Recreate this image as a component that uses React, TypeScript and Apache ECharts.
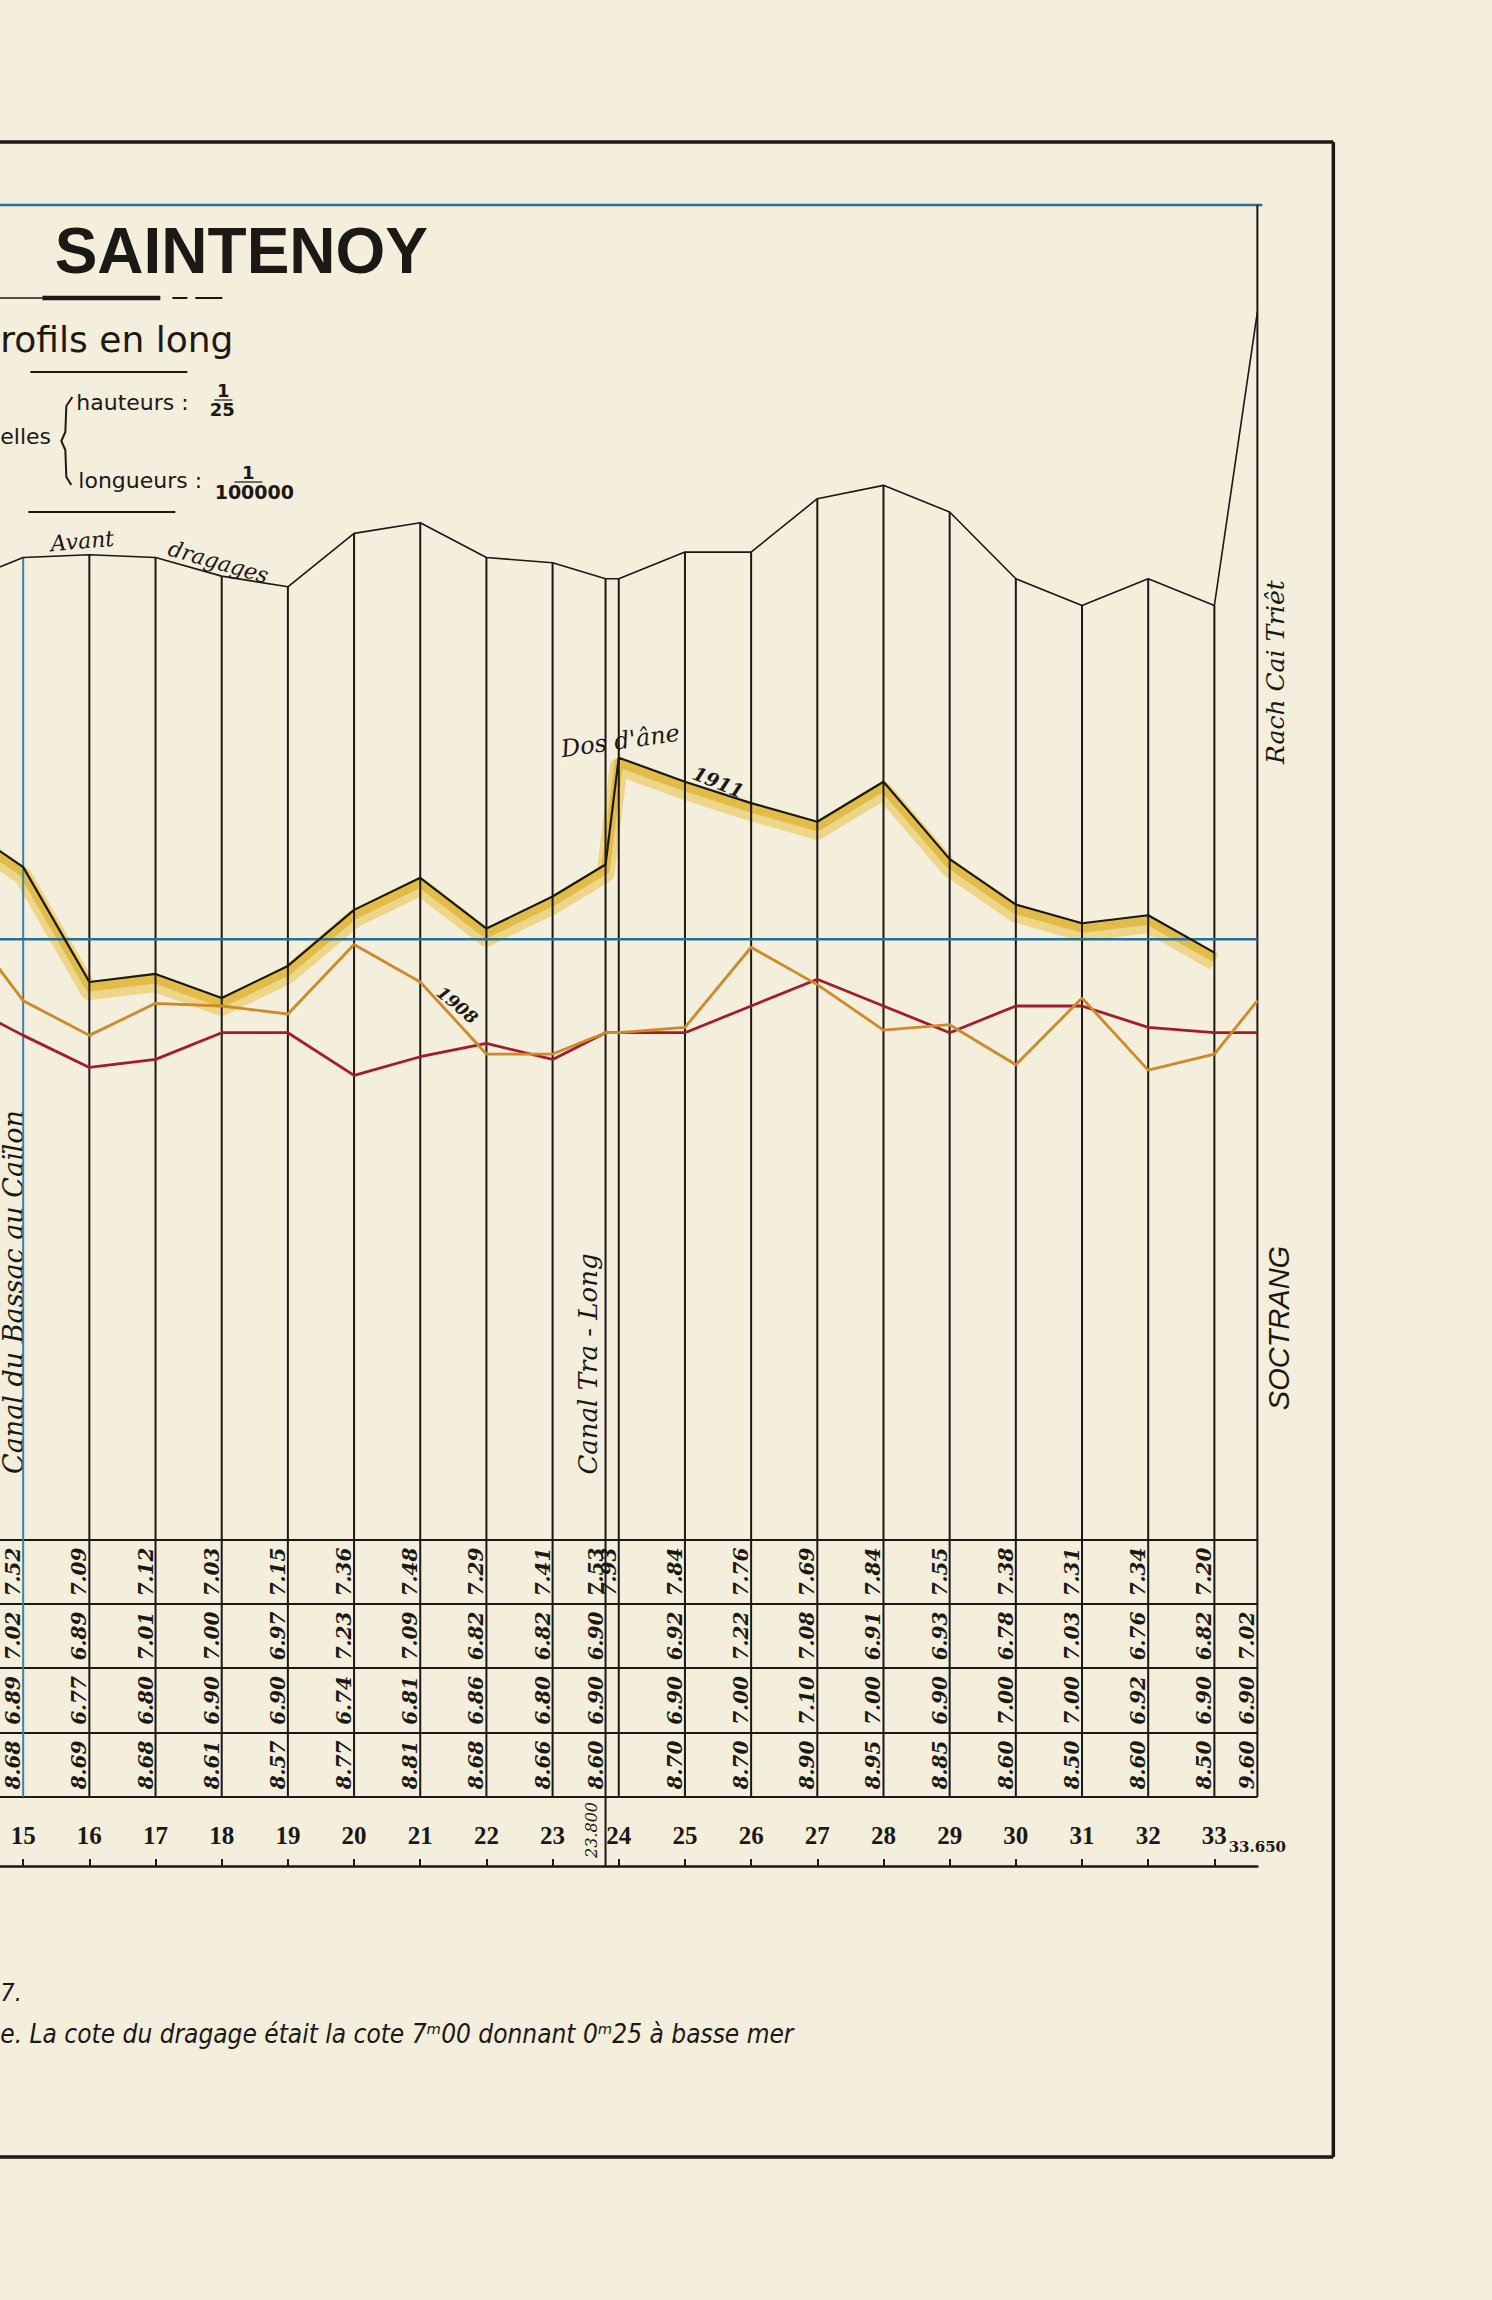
import React, { useEffect, useRef } from "react";
import * as echarts from "echarts";

// ---- Data (stations in km, cotes in metres) ----
const stations = [14, 15, 16, 17, 18, 19, 20, 21, 22, 23, 23.8, 24, 25, 26, 27, 28, 29, 30, 31, 32, 33, 33.65];
const avantDragages = [8.58, 8.68, 8.69, 8.68, 8.61, 8.57, 8.77, 8.81, 8.68, 8.66, 8.6, 8.6, 8.7, 8.7, 8.9, 8.95, 8.85, 8.6, 8.5, 8.6, 8.5, 9.6];
const cotes1911 = [7.69, 7.52, 7.09, 7.12, 7.03, 7.15, 7.36, 7.48, 7.29, 7.41, 7.53, 7.93, 7.84, 7.76, 7.69, 7.84, 7.55, 7.38, 7.31, 7.34, 7.2, null];
const cotes1908 = [7.35, 7.02, 6.89, 7.01, 7.0, 6.97, 7.23, 7.09, 6.82, 6.82, 6.9, 6.9, 6.92, 7.22, 7.08, 6.91, 6.93, 6.78, 7.03, 6.76, 6.82, 7.02];
const cotesRouge = [7.02, 6.89, 6.77, 6.8, 6.9, 6.9, 6.74, 6.81, 6.86, 6.8, 6.9, 6.9, 6.9, 7.0, 7.1, 7.0, 6.9, 7.0, 7.0, 6.92, 6.9, 6.9];
const basseMer = 7.25;
const stationLabels = [15, 16, 17, 18, 19, 20, 21, 22, 23, 24, 25, 26, 27, 28, 29, 30, 31, 32, 33];
const tableRows = [cotes1911, cotes1908, cotesRouge, avantDragages];

// ---- Layout ----
const OX = 46.33;
const PAGE_W = 1492;
const PAGE_H = 2300;
const PX_PER_KM = 66.33;
const X_MIN = 14;
const X_MAX = 33.65;
const Y_MIN = 5;
const Y_MAX = 10;
const GRID_TOP = 205;
const GRID_H = 1335;
const TABLE_LINES = [1540, 1604, 1668, 1733, 1797];
const AXIS_Y = 1866;
const INK = "#1c1814";
const PAPER = "#f4eedc";
const BLUE = "#2a6d93";

const P = (x: number) => x + OX;

const seg = (x1: number, y1: number, x2: number, y2: number, w = 2, color = INK) => ({
  type: "line",
  silent: true,
  shape: { x1: P(x1), y1, x2: P(x2), y2 },
  style: { stroke: color, lineWidth: w },
});

const txt = (text: string, x: number, y: number, font: string, rot = 0, align = "center") => ({
  type: "text",
  silent: true,
  x: P(x),
  y,
  rotation: rot,
  style: { text, font, fill: INK, textAlign: align, textVerticalAlign: "middle" },
});

const deg = (d: number) => (d * Math.PI) / 180;

export default function App() {
  const ref = useRef<HTMLDivElement>(null);

  useEffect(() => {
    if (!ref.current) return;
    const chart = echarts.init(ref.current, undefined, { renderer: "svg" });

    const pairs = (arr: (number | null)[]) =>
      stations.map((s, i) => [s, arr[i]]).filter((p) => p[1] !== null);

    const tableData: number[][] = [];
    tableRows.forEach((row, r) => {
      stations.forEach((s, i) => {
        if (i === 0) return;
        if (row[i] === null) return;
        if (s === 24 && r > 0) return;
        tableData.push([s, r, row[i] as number]);
      });
    });

    const italicSerif = (size: number) => `italic ${size}px "DejaVu Serif", serif`;

    const graphic: any[] = [
      // outer frame
      seg(-2, 142, 1333, 142, 3.5),
      seg(1333, 142, 1333, 2157, 3.5),
      seg(-2, 2157, 1333, 2157, 3.5),
      // inner top blue line
      seg(-2, 205, 1262, 205, 2.5, BLUE),
      // table horizontal lines
      ...TABLE_LINES.map((y) => seg(-2, y, 1257, y, 2.2)),
      // title
      txt("SAINTENOY", 241, 251, 'bold 64px "Liberation Sans", Arial, sans-serif'),
      seg(-2, 298, 42, 298, 1.5),
      seg(42, 298, 160, 298, 4.5),
      seg(172, 298, 187, 298, 2),
      seg(195, 298, 222, 298, 2),
      txt("rofils en long", 0, 339, '36px "DejaVu Sans", sans-serif', 0, "left"),
      seg(30, 372, 187, 372, 2),
      txt("hauteurs :", 76, 402, '22px "DejaVu Sans", sans-serif', 0, "left"),
      txt("1", 223, 390, 'bold 18px "DejaVu Sans", sans-serif'),
      seg(214, 400, 232, 400, 1.2),
      txt("25", 222, 409, 'bold 18px "DejaVu Sans", sans-serif'),
      txt("elles", 0, 436, '22px "DejaVu Sans", sans-serif', 0, "left"),
      {
        type: "polyline",
        silent: true,
        shape: { points: [[P(72), 397], [P(66), 406], [P(65), 432], [P(61), 441], [P(65), 450], [P(66), 477], [P(71), 485]] },
        style: { stroke: INK, lineWidth: 2, fill: "none" },
      },
      txt("longueurs :", 78, 480, '22px "DejaVu Sans", sans-serif', 0, "left"),
      txt("1", 248, 472, 'bold 18px "DejaVu Sans", sans-serif'),
      seg(234, 482, 262, 482, 1.2),
      txt("100000", 254, 492, 'bold 19px "DejaVu Sans", sans-serif'),
      seg(28, 512, 175, 512, 2),
      // annotations
      txt("Avant", 82, 541, italicSerif(22), deg(5)),
      txt("dragages", 218, 562, italicSerif(22), deg(-16)),
      txt("Dos d'âne", 620, 741, italicSerif(24), deg(8)),
      txt("1911", 718, 782, `italic bold 19px "DejaVu Serif", serif`, deg(-22)),
      txt("1908", 457, 1005, `italic bold 17px "DejaVu Serif", serif`, deg(-40)),
      txt("Rach Cai Triêt", 1275, 672, italicSerif(25), deg(90)),
      txt("SOCTRANG", 1279, 1328, 'italic 29px "Liberation Sans", Arial, sans-serif', deg(90)),
      txt("Canal du Bassac au Caïlon", 13, 1292, italicSerif(27), deg(90)),
      txt("Canal Tra - Long", 588, 1364, italicSerif(26), deg(90)),
      txt("23.800", 591, 1830, italicSerif(16), deg(90)),
      txt("33.650", 1257, 1847, 'bold 15px "DejaVu Serif", serif'),
      // notes
      txt("7.", 0, 1992, 'italic 25px "Liberation Sans Narrow", "DejaVu Sans Condensed", sans-serif', 0, "left"),
      txt(
        "e. La cote du dragage était la cote 7ᵐ00 donnant 0ᵐ25 à basse mer",
        0,
        2034,
        'italic 26px "Liberation Sans Narrow", "DejaVu Sans Condensed", sans-serif',
        0,
        "left"
      ),
    ];

    const option: any = {
      animation: false,
      backgroundColor: PAPER,
      grid: { left: 0, top: GRID_TOP, width: (X_MAX - X_MIN) * PX_PER_KM, height: GRID_H },
      xAxis: {
        type: "value",
        min: X_MIN,
        max: X_MAX,
        interval: 1,
        position: "bottom",
        offset: AXIS_Y - (GRID_TOP + GRID_H),
        axisLine: { show: true, onZero: false, lineStyle: { color: INK, width: 2.5 } },
        axisTick: { show: true, inside: true, length: 7, lineStyle: { color: INK, width: 2 } },
        axisLabel: {
          show: true,
          inside: true,
          margin: 18,
          showMaxLabel: false,
          color: INK,
          fontFamily: '"Liberation Serif", serif',
          fontWeight: "bold",
          fontSize: 25,
          formatter: (v: number) => (stationLabels.includes(v) ? String(v) : ""),
        },
        splitLine: { show: false },
      },
      yAxis: { type: "value", min: Y_MIN, max: Y_MAX, show: false, splitLine: { show: false } },
      graphic,
      series: [
        {
          type: "custom",
          name: "lavis 1911",
          silent: true,
          clip: false,
          z: 1,
          data: [0],
          renderItem: (_p: any, api: any) => {
            const pts = stations
              .map((s, i) => (cotes1911[i] === null ? null : api.coord([s, cotes1911[i]])))
              .filter((p) => p !== null);
            return {
              type: "group",
              children: [
                {
                  type: "polyline",
                  shape: { points: pts.map((p: number[]) => [p[0], p[1] + 9]) },
                  style: { stroke: "rgba(232,194,70,0.55)", lineWidth: 18, fill: "none", lineJoin: "round" },
                },
                {
                  type: "polyline",
                  shape: { points: pts.map((p: number[]) => [p[0], p[1] + 5]) },
                  style: { stroke: "rgba(218,170,30,0.6)", lineWidth: 9, fill: "none", lineJoin: "round" },
                },
              ],
            };
          },
        },
        {
          type: "custom",
          name: "profils",
          silent: true,
          clip: false,
          z: 2,
          encode: { x: 0, y: 1 },
          data: stations.map((s, i) => [s, avantDragages[i]]),
          renderItem: (_p: any, api: any) => {
            const s = api.value(0);
            const isEnd = s === stations[stations.length - 1];
            const top = api.coord([s, isEnd ? Y_MAX : api.value(1)]);
            const bottom = s === 23.8 ? AXIS_Y : TABLE_LINES[TABLE_LINES.length - 1];
            return {
              type: "line",
              shape: { x1: top[0], y1: top[1], x2: top[0], y2: bottom },
              style: { stroke: s === 15 ? "#3f7fa8" : INK, lineWidth: 2 },
            };
          },
        },
        {
          type: "custom",
          name: "tableau",
          silent: true,
          clip: false,
          z: 5,
          encode: { x: 0, y: 2 },
          data: tableData,
          renderItem: (_p: any, api: any) => {
            const s = api.value(0);
            const r = api.value(1);
            const v = api.value(2);
            const x = api.coord([s, Y_MIN])[0] - 10;
            const y = (TABLE_LINES[r] + TABLE_LINES[r + 1]) / 2;
            return {
              type: "text",
              x,
              y,
              rotation: Math.PI / 2,
              style: {
                text: Number(v).toFixed(2),
                font: 'italic bold 20px "DejaVu Serif", serif',
                fill: INK,
                textAlign: "center",
                textVerticalAlign: "middle",
              },
            };
          },
        },
        {
          type: "line",
          name: "Basse mer",
          data: [[X_MIN, basseMer], [X_MAX, basseMer]],
          symbol: "none",
          z: 3,
          lineStyle: { color: BLUE, width: 2.5 },
        },
        {
          type: "line",
          name: "Profil rouge",
          data: pairs(cotesRouge),
          symbol: "none",
          z: 4,
          lineStyle: { color: "#a61b2b", width: 2.8 },
        },
        {
          type: "line",
          name: "1908",
          data: pairs(cotes1908),
          symbol: "none",
          z: 4,
          lineStyle: { color: "#d0892a", width: 2.8 },
        },
        {
          type: "line",
          name: "1911",
          data: pairs(cotes1911),
          symbol: "none",
          z: 6,
          lineStyle: { color: INK, width: 2.2 },
        },
        {
          type: "line",
          name: "Avant dragages",
          data: pairs(avantDragages),
          symbol: "none",
          z: 6,
          lineStyle: { color: INK, width: 1.6 },
        },
      ],
    };

    chart.setOption(option);
    return () => chart.dispose();
  }, []);

  return (
    <div
      ref={ref}
      style={{
        position: "absolute",
        left: -OX,
        top: 0,
        width: PAGE_W + OX,
        height: PAGE_H,
        background: PAPER,
      }}
    />
  );
}
